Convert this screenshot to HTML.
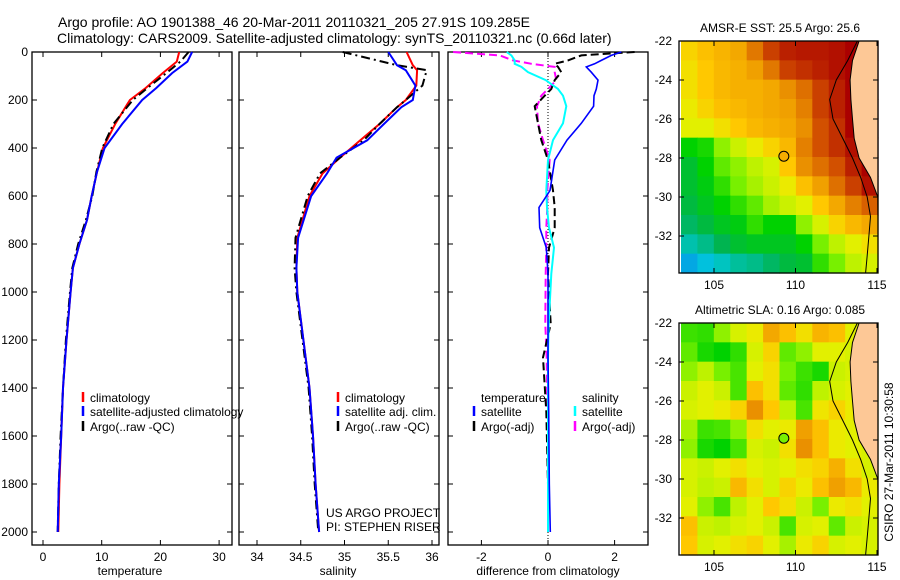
<!DOCTYPE html>
<html><head><meta charset="utf-8"><style>
html,body{margin:0;padding:0;background:#fff;}
svg{display:block;font-family:"Liberation Sans",sans-serif;}
</style></head><body>
<svg id="fig" width="900" height="580" xmlns="http://www.w3.org/2000/svg">
<rect width="900" height="580" fill="#fff"/>
<text x="58" y="27" font-size="14">Argo profile: AO 1901388_46 20-Mar-2011 20110321_205 27.91S 109.285E</text>
<text x="57" y="43" font-size="14">Climatology: CARS2009. Satellite-adjusted climatology: synTS_20110321.nc (0.66d later)</text>
<g id="g"></g>
</svg>
<script>
// ---- data ----
const depthT = [0,40,88,150,200,300,400,500,600,700,800,900,1000,1200,1400,1600,1800,2000];
const tempClim = [23.2,22.8,20.4,17.5,14.8,12.3,10.2,9.2,8.3,7.5,6.2,5.1,4.7,4.0,3.4,3.1,2.8,2.6];
const tempSat  = [25.4,24.6,22.0,19.3,16.9,13.5,10.5,9.2,8.3,7.5,6.2,5.1,4.7,4.0,3.4,3.1,2.7,2.5];
const tempArgo = [24.8,23.4,21.0,17.8,15.3,12.0,10.1,9.1,8.4,7.3,6.0,5.0,4.6,3.9,3.4,3.0,2.7,2.5];
const depthS = [0,55,76,140,200,230,300,368,440,506,600,774,900,1000,1200,1400,1600,1800,2000];
const salClim = [35.71,35.78,35.83,35.82,35.70,35.60,35.40,35.18,34.95,34.75,34.60,34.46,34.45,34.46,34.53,34.60,34.64,34.67,34.71];
const salSat  = [35.50,35.60,35.70,35.81,35.78,35.65,35.45,35.26,34.91,34.80,34.62,34.47,34.45,34.46,34.53,34.60,34.64,34.67,34.71];
const salArgo = [34.98,35.60,35.94,35.89,35.70,35.60,35.40,35.22,34.95,34.72,34.58,34.44,34.43,34.45,34.52,34.59,34.63,34.66,34.70];
const depthD = [0,14,35,49,62,84,117,154,182,226,297,367,450,577,648,732,815,924,1133,1273,1500,1800,2000];
const dTempSat  = [2.2,1.9,1.6,1.4,1.15,1.3,1.5,1.45,1.38,1.37,1.0,0.57,0.2,0.06,-0.27,-0.25,-0.05,0.0,0.0,0.0,0.02,0.04,0.07];
const dTempArgo = [2.6,1.0,0.6,0.2,0.3,0.4,0.2,0.1,-0.1,-0.4,-0.3,-0.2,0.0,0.15,0.2,0.2,0.03,0.0,0.08,-0.15,-0.05,0.0,0.0];
const dSalSat   = [-1.24,-1.1,-1.0,-1.0,-0.8,-0.6,-0.07,0.3,0.45,0.55,0.45,0.15,0.0,-0.05,-0.03,0.03,0.18,0.1,0.02,0.0,0.0,0.0,0.0];
const dSalArgo  = [-2.85,-1.45,-1.05,-0.5,0.2,0.2,0.25,0.0,-0.2,-0.33,-0.3,-0.15,0.05,-0.02,-0.02,-0.05,-0.05,-0.07,-0.08,-0.04,-0.02,0.0,0.0];
const depthTicks = [0,200,400,600,800,1000,1200,1400,1600,1800,2000];
const tTicks = [0,10,20,30];
const sTicks = [34,34.5,35,35.5,36];
const dTicks = [-2,0,2];
const latTicks = [-22,-24,-26,-28,-30,-32];
const lonTicks = [105,110,115];
const sstGrid = [
[.68,.72,.75,.78,.85,.92,.96,.97,.97,.98,1,1],
[.66,.70,.74,.76,.80,.85,.92,.94,.96,.98,1,1],
[.66,.70,.74,.76,.76,.78,.82,.86,.92,.96,1,1],
[.64,.68,.72,.74,.76,.78,.80,.84,.92,.96,1,1],
[.62,.62,.66,.70,.74,.76,.78,.82,.90,.94,1,1],
[.40,.42,.52,.58,.64,.68,.74,.84,.90,.94,.98,1],
[.34,.40,.48,.52,.56,.60,.70,.82,.86,.90,.96,1],
[.34,.38,.44,.50,.54,.58,.64,.72,.80,.86,.92,.98],
[.32,.36,.40,.44,.48,.54,.58,.62,.70,.78,.84,.88],
[.28,.32,.36,.38,.44,.40,.40,.52,.60,.68,.74,.78],
[.20,.24,.30,.34,.36,.36,.36,.40,.50,.56,.62,.66],
[.10,.14,.18,.22,.24,.28,.32,.34,.44,.50,.56,.60]];
const slaGrid = [
[.45,.44,.52,.60,.64,.78,.72,.66,.75,.72,.62,.6],
[.48,.42,.40,.44,.60,.68,.48,.52,.62,.62,.60,.6],
[.52,.56,.50,.46,.62,.66,.50,.45,.42,.58,.60,.6],
[.58,.62,.58,.46,.72,.66,.48,.44,.56,.60,.62,.6],
[.60,.62,.64,.68,.82,.70,.56,.46,.65,.68,.64,.6],
[.54,.45,.46,.52,.66,.62,.64,.80,.72,.64,.62,.6],
[.52,.42,.40,.46,.60,.58,.66,.82,.72,.64,.62,.6],
[.60,.58,.62,.66,.62,.60,.62,.66,.68,.76,.66,.6],
[.60,.56,.58,.74,.66,.60,.68,.64,.72,.80,.74,.64],
[.62,.52,.46,.56,.62,.70,.66,.58,.50,.64,.66,.62],
[.72,.58,.56,.60,.62,.58,.46,.60,.62,.48,.58,.6],
[.70,.60,.62,.66,.68,.62,.54,.64,.68,.60,.62,.6]];
const coastLon = [113.9,113.5,113.35,113.4,113.5,113.6,113.9,114.6,115.05,115.1,115.1];
const coastLat = [-22,-23,-24,-25,-26,-27,-28,-29,-30,-31,-34];
const shelfLon = [113.8,113.2,112.5,112.1,112.3,112.9,113.5,114.0,114.4,114.6,114.5,114.4,114.3];
const shelfLat = [-22,-23,-24,-25,-26,-27,-28,-29,-30,-31,-32,-33,-34];
const argoLon = 109.285, argoLat = -27.91;

// ---- helpers ----
const NS='http://www.w3.org/2000/svg';
const G=document.getElementById('g');
function el(tag,at,parent){const e=document.createElementNS(NS,tag);for(const k in at)e.setAttribute(k,at[k]);(parent||G).appendChild(e);return e;}
function txt(x,y,s,size,anchor,parent){const t=el('text',{x:x,y:y,'font-size':size||12,'text-anchor':anchor||'start'},parent);t.textContent=s;return t;}
const yD = d => 52 + d*0.24;
const xT = v => 43 + v*5.87;
const xS = v => 257 + (v-34)*87.5;
const xDf = v => 548 + v*33.3;

function frame(x0,x1,y0,y1,name){
  const r=el('rect',{x:x0,y:y0,width:x1-x0,height:y1-y0,fill:'none',stroke:'#000','stroke-width':1.3});
  
  
}
function line(xs,ds,fx,color,w,dash,name){
  const pts=xs.map((v,i)=>fx(v).toFixed(1)+','+yD(ds[i]).toFixed(1)).join(' ');
  const p=el('polyline',{points:pts,fill:'none',stroke:color,'stroke-width':w});
  if(dash)p.setAttribute('stroke-dasharray',dash);
  
  
}
function xticks(ticks,fx,name,label,cx){
  const g=el('g',{});
  
  
  ticks.forEach(t=>{const x=fx(t);
    el('line',{x1:x,x2:x,y1:545,y2:540,stroke:'#000'},g);
    el('line',{x1:x,x2:x,y1:52,y2:57,stroke:'#000'},g);
    txt(x,561,String(t),12,'middle',g);});
  const l=txt(cx,575,label,12,'middle');
  
  
}
function yticks(x0,x1,labels){
  depthTicks.forEach(d=>{const y=yD(d);
    el('line',{x1:x0,x2:x0+5,y1:y,y2:y,stroke:'#000'});
    el('line',{x1:x1,x2:x1-5,y1:y,y2:y,stroke:'#000'});
    if(labels){const t=txt(28,y+4,String(d),12,'end');
      
      }
  });
}
function legendEntry(x,y,color,label,name){
  const g=el('g',{});
  
  
  if(color) el('line',{x1:x,x2:x,y1:y-10,y2:y,stroke:color,'stroke-width':2.5},g);
  txt(x+7,y,label,12,'start',g);
}

// ---- panel 1: temperature ----
frame(32,232,52,545,'temperature-axes');
yticks(32,232,true);
xticks(tTicks,xT,'temperature-x-ticks','temperature',130);
line(tempClim,depthT,xT,'#f00',2,null,'climatology-temperature-line');
line(tempArgo,depthT,xT,'#000',2,'9,4,2,4','argo-temperature-line');
line(tempSat,depthT,xT,'#00f',2,null,'satellite-temperature-line');
legendEntry(83,402,'#f00','climatology','legend-climatology');
legendEntry(83,416,'#00f','satellite-adjusted climatology','legend-satellite-adjusted');
legendEntry(83,431,'#000','Argo(..raw -QC)','legend-argo');

// ---- panel 2: salinity ----
frame(239,439,52,545,'salinity-axes');
yticks(239,439,false);
xticks(sTicks,xS,'salinity-x-ticks','salinity',338);
line(salClim,depthS,xS,'#f00',2,null,'climatology-salinity-line');
line(salArgo,depthS,xS,'#000',2,'9,4,2,4','argo-salinity-line');
line(salSat,depthS,xS,'#00f',2,null,'satellite-salinity-line');
legendEntry(338,402,'#f00','climatology','legend-sal-climatology');
legendEntry(338,416,'#00f','satellite adj. clim.','legend-sal-satellite');
legendEntry(338,431,'#000','Argo(..raw -QC)','legend-sal-argo');
legendEntry(319,517,null,'US ARGO PROJECT','project-credit');
legendEntry(319,531,null,'PI: STEPHEN RISER','pi-credit');

// ---- panel 3: difference ----
frame(448,648,52,545,'difference-axes');
yticks(448,648,false);
xticks(dTicks,xDf,'difference-x-ticks','difference from climatology',548);
const zl=el('line',{x1:548,x2:548,y1:52,y2:545,stroke:'#000','stroke-dasharray':'1,2','stroke-width':1});


line(dSalArgo,depthD,xDf,'#f0f',2,'8,4','argo-salinity-difference-line');
line(dTempArgo,depthD,xDf,'#000',2,'8,4','argo-temperature-difference-line');
line(dSalSat,depthD,xDf,'#0ff',2,null,'satellite-salinity-difference-line');
line(dTempSat,depthD,xDf,'#00f',1.6,null,'satellite-temperature-difference-line');
legendEntry(474,402,null,'temperature','legend-temperature-header');
legendEntry(474,416,'#00f','satellite','legend-temp-satellite');
legendEntry(474,431,'#000','Argo(-adj)','legend-temp-argo');
legendEntry(575,402,null,'salinity','legend-salinity-header');
legendEntry(575,416,'#0ff','satellite','legend-sal-satellite-diff');
legendEntry(575,431,'#f0f','Argo(-adj)','legend-sal-argo-diff');

// ---- maps ----
const stops=[[0,[10,100,240]],[0.15,[0,200,220]],[0.3,[0,180,80]],[0.4,[0,210,0]],[0.5,[120,240,0]],[0.56,[190,242,0]],[0.63,[232,240,0]],[0.7,[255,200,0]],[0.8,[240,160,0]],[0.9,[210,80,0]],[1,[170,0,0]]];
function cmap(v){v=Math.max(0,Math.min(1,v));for(let i=1;i<stops.length;i++){if(v<=stops[i][0]){const a=stops[i-1],b=stops[i],f=(v-a[0])/(b[0]-a[0]);const c=a[1].map((x,k)=>Math.round(x+(b[1][k]-x)*f));return 'rgb('+c.join(',')+')';}}return 'rgb(170,0,0)';}
function drawMap(top,grid,title,name,argoVal){
  const x0=681,x1=878,y0=top,y1=top+232;
  const fx=lon=>714+(lon-105)*16.3;
  const fy=lat=>top+(-22-lat)*19.5;
  const g=el('g',{});
  
  
  const nr=grid.length,nc=grid[0].length,cw=(x1-x0)/nc,ch=(y1-y0)/nr;
  grid.forEach((row,r)=>row.forEach((v,c)=>{
    const cell=el('rect',{x:x0+c*cw,y:y0+r*ch,width:cw+0.6,height:ch+0.6,fill:cmap(v)},g);
    
    
  }));
  const pts=coastLon.map((l,i)=>Math.min(x1,fx(l)).toFixed(1)+','+Math.min(y1,fy(coastLat[i])).toFixed(1));
  const land=el('polygon',{points:pts.join(' ')+' '+x1+','+y1+' '+x1+','+y0,fill:'#fdc896',stroke:'#000','stroke-width':1},g);
  
  
  const sp=shelfLon.map((l,i)=>fx(l).toFixed(1)+','+Math.min(y1,fy(shelfLat[i])).toFixed(1)).join(' ');
  const shelf=el('polyline',{points:sp,fill:'none',stroke:'#000','stroke-width':1},g);
  
  
  const m=el('circle',{cx:fx(argoLon),cy:fy(argoLat),r:5,fill:cmap(argoVal),stroke:'#000','stroke-width':1},g);
  
  
  el('rect',{x:679,y:y0,width:199,height:y1-y0,fill:'none',stroke:'#000','stroke-width':1.3},g);
  latTicks.forEach(l=>{const y=fy(l);
    el('line',{x1:679,x2:684,y1:y,y2:y,stroke:'#000'},g);
    el('line',{x1:878,x2:873,y1:y,y2:y,stroke:'#000'},g);
    txt(672,y+4,String(l),12,'end',g);});
  lonTicks.forEach(l=>{const x=fx(l);
    el('line',{x1:x,x2:x,y1:y1,y2:y1-5,stroke:'#000'},g);
    el('line',{x1:x,x2:x,y1:y0,y2:y0+5,stroke:'#000'},g);
    txt(x,y1+16,String(l),12,'middle',g);});
  const t=txt(780,top-9,title,12,'middle');
  
  
}
drawMap(41,sstGrid,'AMSR-E SST: 25.5 Argo: 25.6','sst-map',0.77);
drawMap(323,slaGrid,'Altimetric SLA: 0.16 Argo: 0.085','sla-map',0.5);
const ct=txt(0,0,'CSIRO 27-Mar-2011 10:30:58',12,'middle');
ct.setAttribute('transform','translate(893,462) rotate(-90)');


</script>
</body></html>
